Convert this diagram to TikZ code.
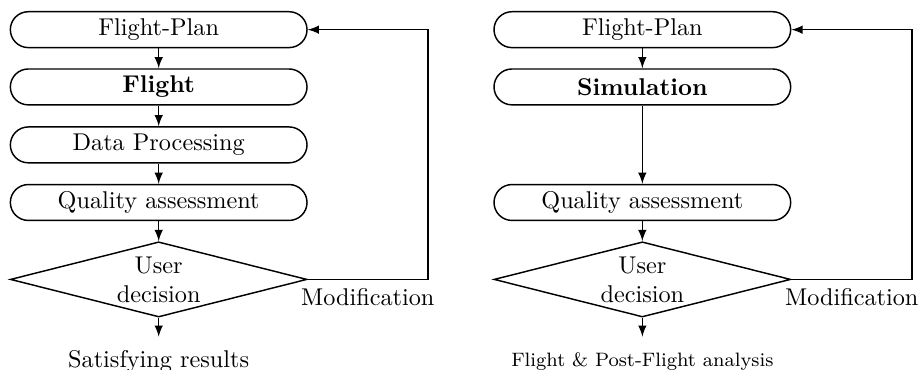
\documentclass[tikz,border=0pt]{standalone}
\usetikzlibrary{shapes.geometric}
\begin{document}
\begin{tikzpicture}[>=latex,semithick,
  stage/.style={draw, rounded corners=0.26cm, minimum width=4.3cm, minimum height=0.52cm, inner sep=0pt},
  choice/.style={draw, diamond, aspect=3.5, minimum width=4.3cm, minimum height=1.09cm, inner sep=0pt, align=center}]
  \useasboundingbox (0,0) rectangle (13.32,-5.35);
  % real flight loop
  \node[stage] (lplan) at (2.3,-0.43) {Flight-Plan};
  \node[stage] (lfly) at (2.3,-1.26) {\textbf{Flight}};
  \node[stage] (lproc) at (2.3,-2.10) {Data Processing};
  \node[stage] (lqual) at (2.3,-2.935) {Quality assessment};
  \node[choice] (ldec) at (2.3,-4.05) {User\\decision};
  \coordinate (lout) at (2.3,-4.88);
  \node[anchor=north] (lres) at (2.3,-4.95) {Satisfying results};
  \coordinate (lback) at (6.2,-4.05);
  \draw[->] (lplan)--(lfly); \draw[->] (lfly)--(lproc); \draw[->] (lproc)--(lqual);
  \draw[->] (lqual)--(ldec); \draw[->] (ldec)--(lout);
  \draw[->] (ldec.east)--node[below]{Modification} (lback) |- (lplan.east);
  % simulated loop
  \node[stage] (rplan) at (9.31,-0.43) {Flight-Plan};
  \node[stage] (rsim) at (9.31,-1.26) {\textbf{Simulation}};
  \node[stage] (rqual) at (9.31,-2.935) {Quality assessment};
  \node[choice] (rdec) at (9.31,-4.05) {User\\decision};
  \coordinate (rout) at (9.31,-4.88);
  \node[anchor=north,font=\footnotesize] (rres) at (9.31,-4.99) {Flight \& Post-Flight analysis};
  \coordinate (rback) at (13.22,-4.05);
  \draw[->] (rplan)--(rsim); \draw[->] (rsim)--(rqual);
  \draw[->] (rqual)--(rdec); \draw[->] (rdec)--(rout);
  \draw[->] (rdec.east)--node[below]{Modification} (rback) |- (rplan.east);
\end{tikzpicture}
\end{document}
